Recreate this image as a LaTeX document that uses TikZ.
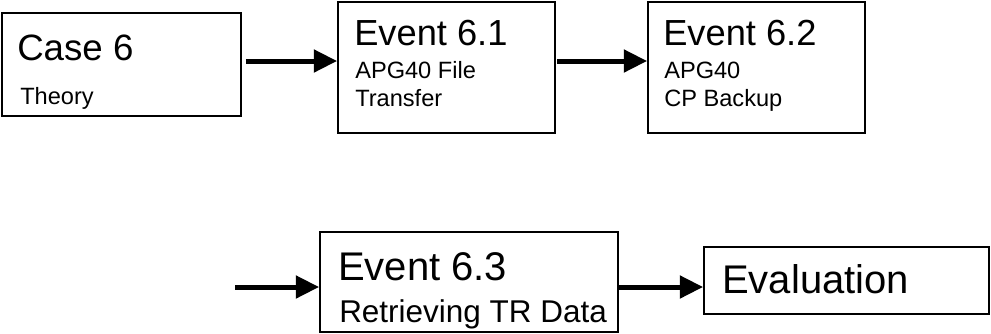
\documentclass[tikz,border=0pt]{standalone}
\usepackage{fontspec}
\setmainfont{Liberation Sans}
\usetikzlibrary{arrows.meta,fit,backgrounds}

\begin{document}
\begin{tikzpicture}[%
    x=0.75pt,y=-0.75pt,%
    show background rectangle,%
    tight background,%
    background rectangle/.style={fill=white}%
    ]
    % Chaine d'evenements

    %
    % Définitions
    %
    \pgfmathsetmacro{\yh}{61};% fleches du haut
    \pgfmathsetmacro{\yb}{287};% fleches du bas
    \pgfmathsetmacro{\xt}{354};% texte Event 6.1
    \pgfmathsetmacro{\xtt}{663};% texte Event 6.2

    %
    % Styles
    %
    \tikzset{boite/.style={draw,line width=1.3pt,inner sep=0pt}};%
    \tikzset{fleche/.style={line width=3.75pt,-{Triangle[length=17.5pt,width=16.5pt]}}};%
    \tikzset{texte/.style={anchor=base west,inner sep=0pt}};%
    \tikzset{titre/.style={texte,font=\fontsize{27.5}{32}\selectfont}};%
    \tikzset{sous/.style={texte,font=\fontsize{17.7}{21}\selectfont}};%

    \useasboundingbox (0,0) rectangle (991,333);%

    %
    % Coordonnées
    %
    % Coins des boites
    \coordinate (case-a) at (2,13);%
    \coordinate (case-b) at (241,116);%
    \coordinate (ev1-a) at (338,2);%
    \coordinate (ev1-b) at (555,133);%
    \coordinate (ev2-a) at (648,2);%
    \coordinate (ev2-b) at (865,133);%
    \coordinate (ev3-a) at (320,232);%
    \coordinate (ev3-b) at (618,332);%
    \coordinate (eval-a) at (704,247);%
    \coordinate (eval-b) at (989,314);%

    % Hauteur des fleches
    \coordinate (fh) at (0,\yh);%
    \coordinate (fb) at (0,\yb);%
    \coordinate (depart) at (235,\yb);%

    %
    % Dessin
    %
    % Boites
    \node[boite,fit={(case-a) (case-b)}] (case) {};%
    \node[boite,fit={(ev1-a) (ev1-b)}] (ev1) {};%
    \node[boite,fit={(ev2-a) (ev2-b)}] (ev2) {};%
    \node[boite,fit={(ev3-a) (ev3-b)}] (ev3) {};%
    \node[boite,fit={(eval-a) (eval-b)}] (eval) {};%

    % Textes
    \node[titre] (case-t) at (17,60) {Case 6};%
    \node[sous] (case-s) at (20,104) {Theory};%
    \node[titre,font=\fontsize{27.2}{32}\selectfont] (ev1-t) at (\xt,45) {Event 6.1};%
    \node[sous] (ev1-s) at (\xt+1,78) {APG40 File};%
    \node[sous] (ev1-ss) at (\xt+1,106) {Transfer};%
    \node[titre,font=\fontsize{27.2}{32}\selectfont] (ev2-t) at (\xtt,45) {Event 6.2};%
    \node[sous] (ev2-s) at (\xtt+1,78) {APG40};%
    \node[sous] (ev2-ss) at (\xtt+1,106) {CP Backup};%
    \node[titre,font=\fontsize{30}{34}\selectfont] (ev3-t) at (338,280) {Event 6.3};%
    \node[sous,font=\fontsize{23.6}{27}\selectfont] (ev3-s) at (339,322) {Retrieving TR Data};%
    \node[titre,font=\fontsize{30}{34}\selectfont] (eval-t) at (722,293) {Evaluation};%

    % Fleches
    \draw[fleche,shorten <=3pt] (case.east |- fh) -- (ev1.west |- fh);%
    \draw[fleche,shorten <=1pt] (ev1.east |- fh) -- (ev2.west |- fh);%
    \draw[fleche] (depart) -- (ev3.west |- depart);%
    \draw[fleche] (ev3.east |- fb) -- (eval.west |- fb);%

\end{tikzpicture}
\end{document}
